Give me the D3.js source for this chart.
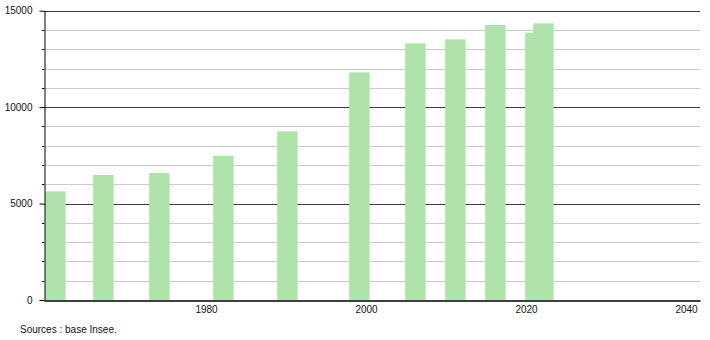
<!DOCTYPE html>
<html>
<head>
<meta charset="utf-8">
<script src="https://cdn.jsdelivr.net/npm/d3@7"></script>
<style>
  body { margin: 0; background: #fff; }
  text { font-family: 'Liberation Sans', Arial, sans-serif; }
</style>
</head>
<body>
<div id="my_dataviz"></div>
<script>
// population values
const years = [1961, 1967, 1974, 1982, 1990, 1999, 2006, 2011, 2016, 2021, 2022]
const population = [5635, 6480, 6584, 7481, 8746, 11804, 13306, 13514, 14257, 13858, 14344]
const xTicks = [1980, 2000, 2020, 2040]
const yMajorTicks = [0, 5000, 10000, 15000]
const yMinorTicks = d3.range(0, 15001, 1000)
const sourceText = 'Sources : base Insee.'

const width = 710,
  height = 340

const svg = d3
  .select('#my_dataviz')
  .append('svg')
  .attr('width', width)
  .attr('height', height)

// scales
const xScale = d3.scaleLinear().domain([1959.75, 2041.75]).range([44, 700])
const yScale = d3.scaleLinear().domain([0, 15000]).range([300, 10.7])

// minor grid lines
svg
  .append('g')
  .selectAll('line')
  .data(yMinorTicks.filter((v) => !yMajorTicks.includes(v)))
  .join('line')
  .attr('x1', 44)
  .attr('x2', 700)
  .attr('y1', (d) => Math.round(yScale(d)) + 0.5)
  .attr('y2', (d) => Math.round(yScale(d)) + 0.5)
  .attr('stroke', '#cbcbcb')
  .attr('stroke-width', 1)

// major grid lines
svg
  .append('g')
  .selectAll('line')
  .data(yMajorTicks.filter((v) => v > 0))
  .join('line')
  .attr('x1', 44)
  .attr('x2', 700)
  .attr('y1', (d) => Math.round(yScale(d)) + 0.5)
  .attr('y2', (d) => Math.round(yScale(d)) + 0.5)
  .attr('stroke', '#3a3a3a')
  .attr('stroke-width', 1)

// bars
svg
  .append('g')
  .selectAll('rect')
  .data(years.map((y, i) => ({ year: y, value: population[i] })))
  .join('rect')
  .attr('x', (d) => xScale(d.year - 1.1))
  .attr('width', (d) => xScale(d.year + 1.45) - xScale(d.year - 1.1))
  .attr('y', (d) => yScale(d.value))
  .attr('height', (d) => yScale(0) - yScale(d.value))
  .attr('fill', '#afe3ab')

// y axis with major ticks
const yAxis = svg
  .append('g')
  .attr('transform', 'translate(44.5, 0)')
  .call(d3.axisLeft(yScale).tickValues(yMajorTicks).tickSize(5).tickSizeOuter(0).tickFormat(d3.format('d')))
yAxis.select('.domain').attr('stroke', '#000')
yAxis.selectAll('.tick line').attr('stroke', '#000')
yAxis
  .selectAll('text')
  .attr('x', -12)
  .attr('font-size', '10px')
  .attr('fill', '#111')
  .attr('font-family', "'Liberation Sans', Arial, sans-serif")

// short minor ticks on y axis
svg
  .append('g')
  .selectAll('line')
  .data(yMinorTicks.filter((v) => !yMajorTicks.includes(v)))
  .join('line')
  .attr('x1', 42)
  .attr('x2', 44)
  .attr('y1', (d) => Math.round(yScale(d)) + 0.5)
  .attr('y2', (d) => Math.round(yScale(d)) + 0.5)
  .attr('stroke', '#000')

// x axis
const xAxis = svg
  .append('g')
  .attr('transform', 'translate(0, 300.5)')
  .call(d3.axisBottom(xScale).tickValues(xTicks).tickSize(0).tickPadding(5).tickFormat(d3.format('d')))
xAxis.select('.domain').attr('stroke', '#000').attr('stroke-width', 1.5)
xAxis
  .selectAll('text')
  .attr('font-size', '10px')
  .attr('fill', '#111')
  .attr('font-family', "'Liberation Sans', Arial, sans-serif")

// source note
svg
  .append('text')
  .attr('x', 20)
  .attr('y', 333)
  .attr('font-size', '10px')
  .attr('fill', '#111')
  .text(sourceText)
</script>
</body>
</html>
